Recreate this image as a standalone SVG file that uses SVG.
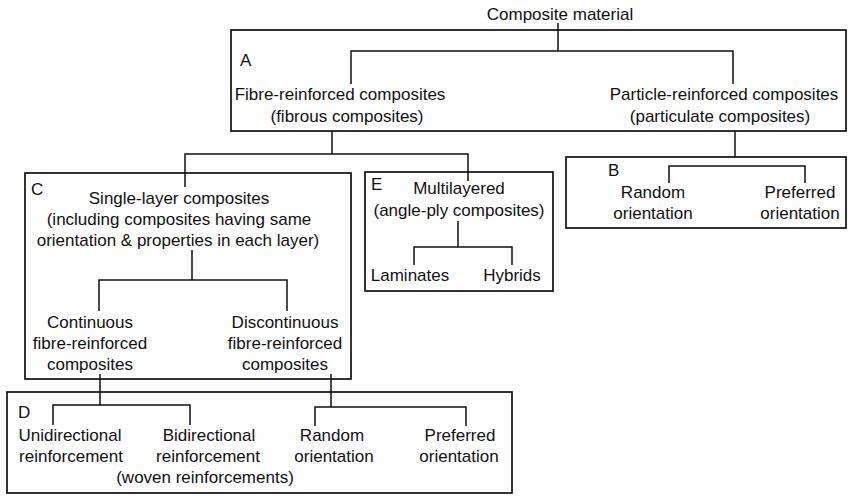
<svg xmlns="http://www.w3.org/2000/svg" width="848" height="497" viewBox="0 0 848 497">
<style>
text{font-family:"Liberation Sans",Arial,sans-serif;font-size:17px;fill:#111;text-anchor:middle}
text.lbl{text-anchor:start}
.box{fill:none;stroke:#111;stroke-width:1.7}
.con{fill:none;stroke:#111;stroke-width:1.5}
</style>
<rect width="848" height="497" fill="#fff"/>
<g id="boxes">
<rect id="boxA" class="box" x="231" y="30" width="615" height="101"/>
<rect id="boxB" class="box" x="566" y="157" width="280" height="71"/>
<rect id="boxC" class="box" x="25" y="173" width="326" height="206"/>
<rect id="boxE" class="box" x="365" y="172" width="188" height="119"/>
<rect id="boxD" class="box" x="7" y="392" width="505" height="101"/>
</g>
<g id="connectors" class="con">
<path d="M558 23V51M351 84V51H733V84"/>
<path d="M332 131V154M185 187V154H468V181"/>
<path d="M735 131V157M669 183V166H805V183"/>
<path d="M192 250V280M99 311V280H287V311"/>
<path d="M458 221V247M414 265V247H512V265"/>
<path d="M100 374V405M53 425V405H190V425"/>
<path d="M331 374V407M315 426V407H466V426"/>
</g>
<g id="labels">
<text class="lbl" x="240" y="66">A</text>
<text class="lbl" x="608" y="176">B</text>
<text class="lbl" x="31" y="195">C</text>
<text class="lbl" x="18" y="418">D</text>
<text class="lbl" x="371" y="190">E</text>
</g>
<g id="n-composite"><text x="560" y="20">Composite material</text></g>
<g id="n-fibre"><text x="340" y="100">Fibre-reinforced composites</text><text x="347" y="122">(fibrous composites)</text></g>
<g id="n-particle"><text x="724" y="100">Particle-reinforced composites</text><text x="720" y="122">(particulate composites)</text></g>
<g id="n-b-random"><text x="653" y="198">Random</text><text x="653" y="219">orientation</text></g>
<g id="n-b-preferred"><text x="800" y="198">Preferred</text><text x="800" y="219">orientation</text></g>
<g id="n-single"><text x="179" y="204">Single-layer composites</text><text x="179" y="225">(including composites having same</text><text x="178" y="246">orientation &amp; properties in each layer)</text></g>
<g id="n-multi"><text x="459" y="194">Multilayered</text><text x="459" y="216">(angle-ply composites)</text></g>
<g id="n-laminates"><text x="410" y="281">Laminates</text></g>
<g id="n-hybrids"><text x="512" y="281">Hybrids</text></g>
<g id="n-continuous"><text x="90" y="328">Continuous</text><text x="90" y="349">fibre-reinforced</text><text x="90" y="370">composites</text></g>
<g id="n-discontinuous"><text x="285" y="328">Discontinuous</text><text x="285" y="349">fibre-reinforced</text><text x="285" y="370">composites</text></g>
<g id="n-uni"><text x="70" y="441">Unidirectional</text><text x="71" y="462">reinforcement</text></g>
<g id="n-bi"><text x="209" y="441">Bidirectional</text><text x="208" y="462">reinforcement</text><text x="205" y="483">(woven reinforcements)</text></g>
<g id="n-d-random"><text x="332" y="441">Random</text><text x="334" y="462">orientation</text></g>
<g id="n-d-preferred"><text x="460" y="441">Preferred</text><text x="459" y="462">orientation</text></g>
</svg>
